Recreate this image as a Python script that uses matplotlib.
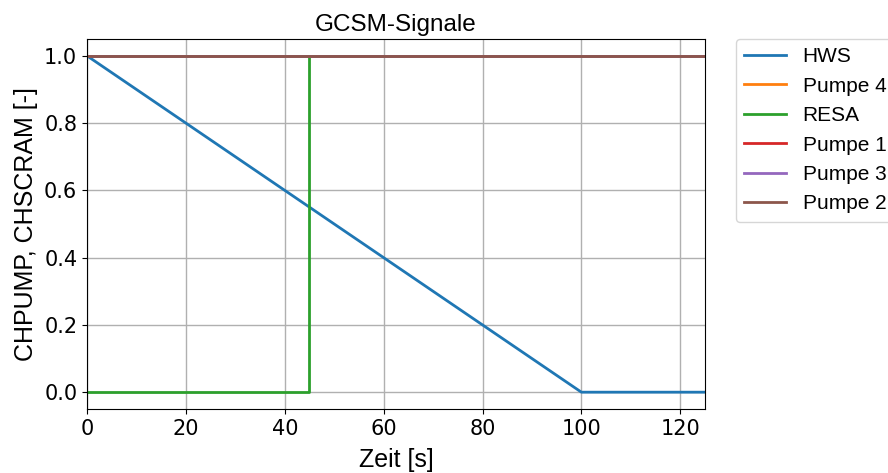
import matplotlib
matplotlib.use("Agg")
import matplotlib.pyplot as plt

t_hws = [0, 100, 125]
hws = [1.0, 0.0, 0.0]
t_resa = [0, 45, 45, 125]
resa = [0.0, 0.0, 1.0, 1.0]
t_pump = [0, 125]
pumpe4 = [1.0, 1.0]
pumpe1 = [1.0, 1.0]
pumpe3 = [1.0, 1.0]
pumpe2 = [1.0, 1.0]
xticks = [0, 20, 40, 60, 80, 100, 120]
yticks = [0.0, 0.2, 0.4, 0.6, 0.8, 1.0]

arial = ['Liberation Sans', 'DejaVu Sans']

fig = plt.figure(figsize=(8.88, 4.73), dpi=100)
ax = fig.add_axes([87/888, 1 - 409/473, (705-87)/888, (409-39)/473])

ax.plot(t_hws, hws, color='#1f77b4', lw=2, label='HWS')
ax.plot(t_pump, pumpe4, color='#ff7f0e', lw=2, label='Pumpe 4')
ax.plot(t_resa, resa, color='#2ca02c', lw=2, label='RESA')
ax.plot(t_pump, pumpe1, color='#d62728', lw=2, label='Pumpe 1')
ax.plot(t_pump, pumpe3, color='#9467bd', lw=2, label='Pumpe 3')
ax.plot(t_pump, pumpe2, color='#8c564b', lw=2, label='Pumpe 2')

ax.set_xlim(0, 125)
ax.set_ylim(-0.05, 1.05)
ax.set_xticks(xticks)
ax.set_yticks(yticks)
ax.tick_params(labelsize=15)
ax.grid(True, color='#b0b0b0', lw=1)
ax.set_axisbelow(True)

ax.set_title('GCSM-Signale', fontsize=17.5, family=arial, pad=6)
ax.set_xlabel('Zeit [s]', fontsize=18, family=arial, labelpad=7)
ax.set_ylabel('CHPUMP, CHSCRAM [-]', fontsize=18, family=arial, labelpad=4)

ax.legend(loc='upper left', bbox_to_anchor=(1.05, 1.0), borderaxespad=0,
          prop={'family': arial, 'size': 15})

fig.savefig('out.png', dpi=100)
